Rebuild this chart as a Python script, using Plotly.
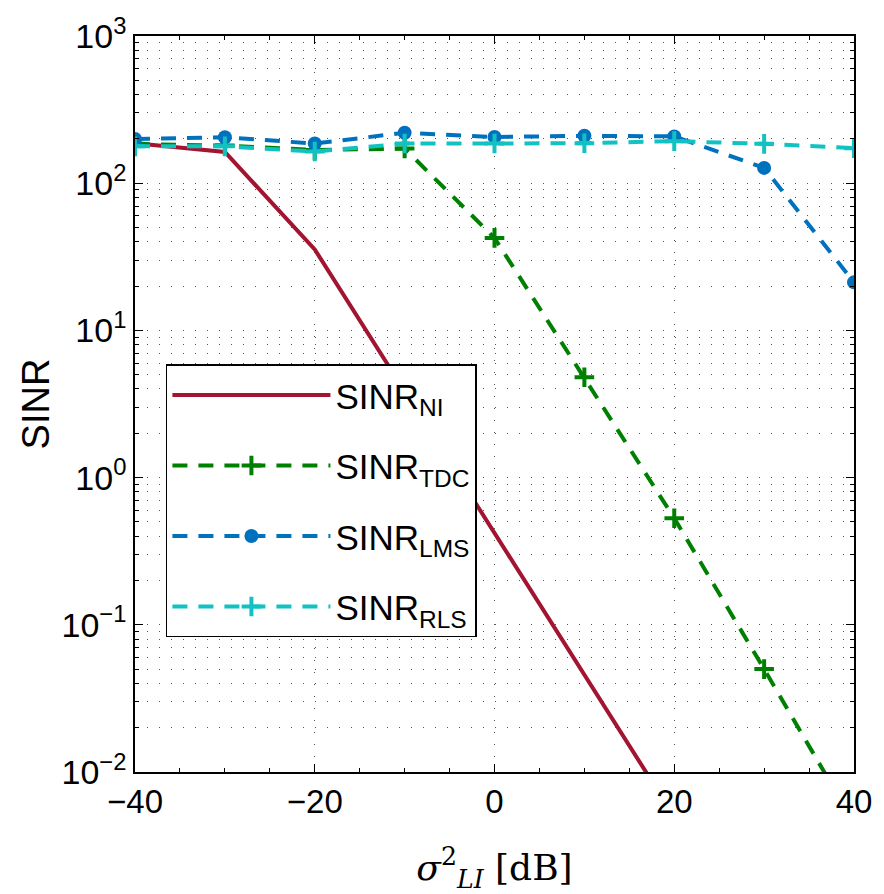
import plotly.graph_objects as go

x_db = [-40, -30, -20, -10, 0, 10, 20, 30, 40]
sinr_ni = [187, 163, 35.5, 3.86, 0.42, 0.0455, 0.0049, 0.00054, 0.000059]
sinr_tdc = [185, 180, 168, 172, 42.5, 4.8, 0.53, 0.050, 0.0045]
sinr_lms = [200, 205, 186, 220, 206, 210, 208, 127, 21.2]
sinr_rls = [178, 178, 164, 186, 186, 187, 193, 185, 173]

x_ticks = [-40, -20, 0, 20, 40]
y_ticks = [1e-2, 1e-1, 1e0, 1e1, 1e2, 1e3]
y_ticklabels = ["10<sup>−2</sup>", "10<sup>−1</sup>", "10<sup>0</sup>",
                "10<sup>1</sup>", "10<sup>2</sup>", "10<sup>3</sup>"]
x_ticklabels = ["−40", "−20", "0", "20", "40"]

RED = "#A2142F"
GREEN = "#008000"
BLUE = "#0072BD"
CYAN = "#12C2C2"
DASH = "15px,11px"

fig = go.Figure()
fig.add_trace(go.Scatter(
    x=x_db, y=sinr_ni, mode="lines", name="SINR<sub>NI</sub>",
    line=dict(color=RED, width=4), legendgroup="a"))
fig.add_trace(go.Scatter(
    x=x_db, y=sinr_tdc, mode="lines+markers", name="SINR<sub>TDC</sub>",
    line=dict(color=GREEN, width=4, dash=DASH),
    marker=dict(symbol="cross-thin", size=14, line=dict(color=GREEN, width=4)),
    legendgroup="b"))
fig.add_trace(go.Scatter(
    x=x_db, y=sinr_lms, mode="lines+markers", name="SINR<sub>LMS</sub>",
    line=dict(color=BLUE, width=4, dash=DASH),
    marker=dict(symbol="circle", size=14, color=BLUE),
    legendgroup="c"))
fig.add_trace(go.Scatter(
    x=x_db, y=sinr_rls, mode="lines+markers", name="SINR<sub>RLS</sub>",
    line=dict(color=CYAN, width=4, dash=DASH),
    marker=dict(symbol="cross-thin", size=14, line=dict(color=CYAN, width=4)),
    legendgroup="d"))

FONT = "Liberation Sans, Arial, sans-serif"
fig.update_layout(
    width=884, height=894,
    margin=dict(l=135, r=22, t=34, b=120),
    paper_bgcolor="white", plot_bgcolor="white",
    font=dict(family=FONT, size=33, color="black"),
    showlegend=True,
    legend=dict(
        x=0.043, y=0.554, xanchor="left", yanchor="top",
        bgcolor="white", bordercolor="black", borderwidth=1.5,
        font=dict(family=FONT, size=35, color="black"),
        tracegroupgap=22, itemwidth=158,
    ),
    xaxis=dict(
        range=[-40, 40], tickvals=x_ticks, ticktext=x_ticklabels,
        showline=True, linecolor="black", linewidth=1.5, mirror="allticks",
        ticks="inside", ticklen=8, tickcolor="black",
        showgrid=True, gridcolor="#555", gridwidth=1, griddash="1px,11px",
        zeroline=False,
        tickfont=dict(size=33),
        title=dict(text="<i>σ</i><sup>2</sup><sub><i>LI</i></sub> [dB]",
                   font=dict(family="DejaVu Serif, Liberation Serif, serif", size=36),
                   standoff=36),
        minor=dict(dtick=5, ticks="inside", ticklen=4, tickcolor="black", showgrid=False),
    ),
    yaxis=dict(
        type="log", range=[-2, 3], tickvals=y_ticks, ticktext=y_ticklabels,
        showline=True, linecolor="black", linewidth=1.5, mirror="allticks",
        ticks="inside", ticklen=8, tickcolor="black",
        showgrid=True, gridcolor="#555", gridwidth=1, griddash="1px,11px",
        zeroline=False,
        tickfont=dict(size=34),
        title=dict(text="SINR", font=dict(size=38), standoff=0),
        minor=dict(dtick="D1", ticks="inside", ticklen=4, tickcolor="black",
                   showgrid=True, gridcolor="#555", gridwidth=1, griddash="1px,11px"),
    ),
)

fig.write_html("out.html")
